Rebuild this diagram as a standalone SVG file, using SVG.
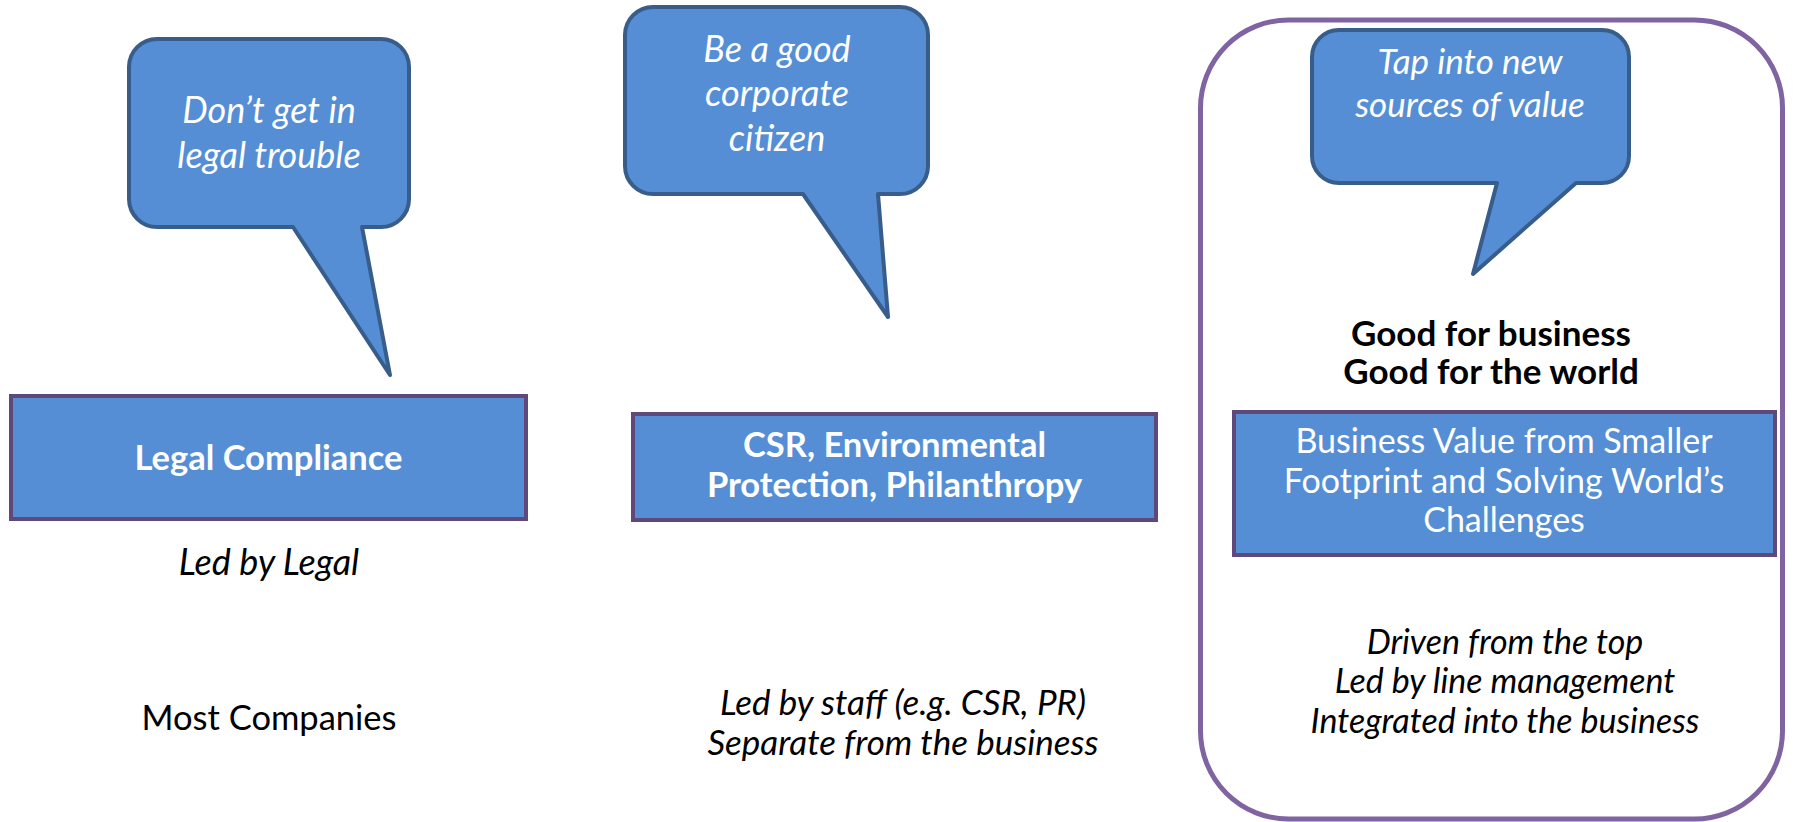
<svg xmlns="http://www.w3.org/2000/svg" width="1794" height="822" viewBox="0 0 1794 822">
<style>
.bubble{fill:#558ED5;stroke:#385D8A;stroke-width:4;stroke-linejoin:round}
.box{fill:#558ED5;stroke:#5F497A;stroke-width:4}
.frame{fill:none;stroke:#8064A2;stroke-width:5}
text{font-family:Lato,"Open Sans","Liberation Sans",sans-serif;text-anchor:middle}
.bt{fill:#FFFFFF;font-style:italic;font-size:36px}
.wb{fill:#FFFFFF;font-weight:bold;font-size:34.5px}
.wr{fill:#FFFFFF;font-size:34px}
.kb{fill:#000000;font-weight:bold;font-size:35px}
.ki{fill:#000000;font-style:italic;font-size:34px}
.kr{fill:#000000;font-size:34.5px}
</style>
<rect width="1794" height="822" fill="#FFFFFF"/>
<g id="frame-right">
<rect class="frame" x="1200.5" y="20" width="582" height="799" rx="88" ry="88"/>
</g>
<g id="connectors"/>
<g id="bubble-legal">
<path class="bubble" d="M157,39 H381 A28,28 0 0 1 409,67 V199 A28,28 0 0 1 381,227 H362 L390,375 L293,227 H157 A28,28 0 0 1 129,199 V67 A28,28 0 0 1 157,39 Z"/>
<text class="bt" x="269" y="123">Don’t get in</text>
<text class="bt" x="269" y="168">legal trouble</text>
</g>
<g id="bubble-citizen">
<path class="bubble" d="M653,7 H900 A28,28 0 0 1 928,35 V166 A28,28 0 0 1 900,194 H878 L888,317 L803,194 H653 A28,28 0 0 1 625,166 V35 A28,28 0 0 1 653,7 Z"/>
<text class="bt" x="777" y="62">Be a good</text>
<text class="bt" x="777" y="106">corporate</text>
<text class="bt" x="777" y="151">citizen</text>
</g>
<g id="bubble-value">
<path class="bubble" d="M1339,30 H1602 A27,27 0 0 1 1629,57 V156 A27,27 0 0 1 1602,183 H1576 L1473,274 L1497,183 H1339 A27,27 0 0 1 1312,156 V57 A27,27 0 0 1 1339,30 Z"/>
<text class="bt" x="1470" y="74" style="font-size:35px">Tap into new</text>
<text class="bt" x="1470" y="117" style="font-size:35px">sources of value</text>
</g>
<g id="box-legal">
<rect class="box" x="11" y="396" width="515" height="123"/>
<text class="wb" x="268.5" y="470">Legal Compliance</text>
</g>
<g id="box-csr">
<rect class="box" x="633" y="414" width="523" height="106"/>
<text class="wb" x="894.5" y="457">CSR, Environmental</text>
<text class="wb" x="894.5" y="497">Protection, Philanthropy</text>
</g>
<g id="label-good">
<text class="kb" x="1491" y="346">Good for business</text>
<text class="kb" x="1491" y="384">Good for the world</text>
</g>
<g id="box-value">
<rect class="box" x="1234" y="412" width="541" height="143"/>
<text class="wr" x="1504" y="453">Business Value from Smaller</text>
<text class="wr" x="1504" y="493">Footprint and Solving World’s</text>
<text class="wr" x="1504" y="532">Challenges</text>
</g>
<g id="label-legal">
<text class="ki" x="269" y="575" style="font-size:36px">Led by Legal</text>
</g>
<g id="label-most">
<text class="kr" x="269" y="730">Most Companies</text>
</g>
<g id="label-staff">
<text class="ki" x="903" y="715" style="font-size:35px">Led by staff (e.g. CSR, PR)</text>
<text class="ki" x="903" y="755" style="font-size:35px">Separate from the business</text>
</g>
<g id="label-top">
<text class="ki" x="1505" y="654">Driven from the top</text>
<text class="ki" x="1505" y="693">Led by line management</text>
<text class="ki" x="1505" y="733">Integrated into the business</text>
</g>
</svg>
